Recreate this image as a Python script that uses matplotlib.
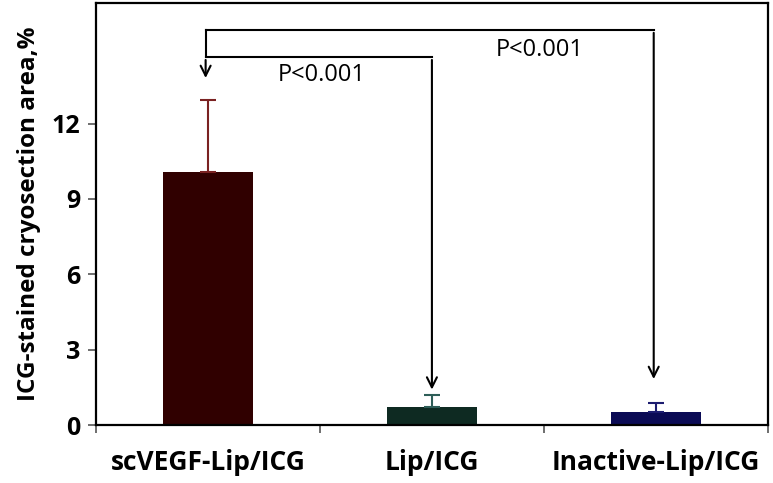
import matplotlib
matplotlib.use("Agg")
import matplotlib.pyplot as plt
import numpy as np

categories = ["scVEGF-Lip/ICG", "Lip/ICG", "Inactive-Lip/ICG"]
values = [10.07, 0.72, 0.52]
errors = [2.88, 0.47, 0.36]
bar_colors = ["#300000", "#0e2a22", "#0b0b55"]
err_colors = ["#7a2222", "#2e5e58", "#1c1c70"]
yticks = [0, 3, 6, 9, 12]
p_labels = ["P<0.001", "P<0.001"]

plt.rcParams['font.family'] = ['Open Sans', 'DejaVu Sans']

fig = plt.figure(figsize=(7.73, 4.83), dpi=100)
ax = fig.add_axes([0.124, 0.12, 0.8695, 0.874])

x = np.arange(len(categories))
for i in range(len(categories)):
    ax.bar(x[i], values[i], width=0.405, color=bar_colors[i], zorder=2)
    ax.errorbar(x[i], values[i], yerr=[[0], [errors[i]]], fmt='none',
                ecolor=err_colors[i], elinewidth=1.5, capsize=6, capthick=1.5, zorder=3)

ax.set_xlim(-0.5, 2.5)
ax.set_ylim(0, 16.8)
ax.set_yticks(yticks)
ax.set_yticklabels([str(t) for t in yticks], fontsize=18, fontweight='bold')
ax.set_xticks(x)
ax.set_xticklabels(categories, fontsize=19, fontweight='bold')
ax.tick_params(axis='x', which='major', length=0, pad=17)
ax.set_xticks([-0.5, 0.5, 1.5, 2.5], minor=True)
ax.tick_params(axis='x', which='minor', length=6, width=1.2, direction='out', color='#555555')
ax.tick_params(axis='y', length=6, width=1.2, direction='out', color='#555555', pad=5)
for s in ax.spines.values():
    s.set_linewidth(1.6)
ax.set_ylabel("ICG-stained cryosection area,%", fontsize=17.5, fontweight='bold', labelpad=8)

# significance brackets
outer_y = 15.72
inner_y = 14.64
x0 = x[0] - 0.01
lw = 1.5
ax.plot([x0, x[2] - 0.01], [outer_y, outer_y], color='black', lw=lw, zorder=4)
ax.plot([x0, x0], [outer_y, inner_y], color='black', lw=lw, zorder=4)
ax.annotate("", xy=(x0, 13.7), xytext=(x0, inner_y),
            arrowprops=dict(arrowstyle='->', color='black', lw=lw, mutation_scale=18))
ax.annotate("", xy=(x[2] - 0.01, 1.72), xytext=(x[2] - 0.01, outer_y),
            arrowprops=dict(arrowstyle='->', color='black', lw=lw, mutation_scale=18))
ax.plot([x0, x[1]], [inner_y, inner_y], color='black', lw=lw, zorder=4)
ax.annotate("", xy=(x[1], 1.3), xytext=(x[1], inner_y),
            arrowprops=dict(arrowstyle='->', color='black', lw=lw, mutation_scale=18))

ax.text(0.51, 13.93, p_labels[0], fontsize=17, ha='center', va='center')
ax.text(1.48, 14.92, p_labels[1], fontsize=17, ha='center', va='center')

fig.savefig("out.png", dpi=100)
